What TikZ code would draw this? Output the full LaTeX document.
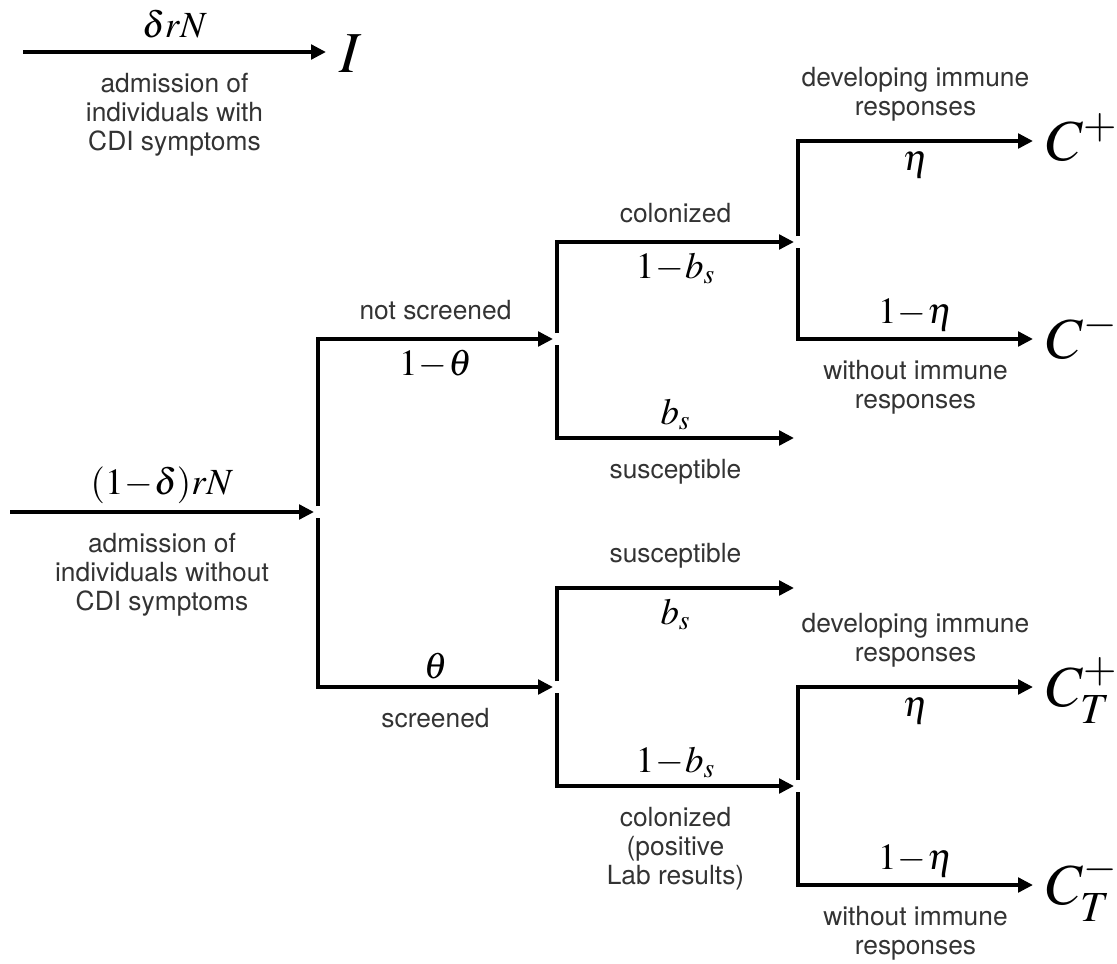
\documentclass[tikz,border=0pt]{standalone}
\usepackage{mathptmx}
\usepackage{fontspec}
\setsansfont{TeX Gyre Heros}
\usetikzlibrary{arrows.meta,calc}

\newcommand{\tminus}{\mskip0.5mu{-}\mskip0.5mu}

\tikzset{
  flow/.style={line width=2.2pt,-{Triangle[length=0.3cm,width=0.29cm]}},
  desc/.style={font=\sffamily\fontsize{15}{16.5}\selectfont,text=black!80,align=center,inner sep=0pt},
  rate/.style={font=\fontsize{21}{25}\selectfont,inner sep=0pt},
  state/.style={font=\fontsize{33}{40}\selectfont,inner sep=0pt,outer sep=7.5pt,anchor=base west},
  descup/.style={desc,above=10pt},
  descdown/.style={desc,below=11pt},
  rateup/.style={rate,above=3.5pt},
  ratedown/.style={rate,below=5pt},
}

\begin{document}
\begin{tikzpicture}[x=0.02cm,y=-0.02cm]
\useasboundingbox (0,0) rectangle (1117,964);

% junctions of the tree
\coordinate (symp) at (23,52);
\coordinate (in0) at (10,512);
\coordinate (j0) at (318,512);
\coordinate (j1) at (557,339);
\coordinate (j2) at (557,687);
\coordinate (j3) at (798,242);
\coordinate (e1) at (798,438);
\coordinate (e2) at (798,588);
\coordinate (j4) at (798,786);

% compartments
\node[state] (I) at (326,72) {$I$};
\node[state] (Cp) at (1033,160) {$C^+$};
\node[state] (Cm) at (1033,358) {$C^-$};
\node[state] (CTp) at (1033,706) {$C_T^+$};
\node[state] (CTm) at (1033,904) {$C_T^-$};

% admission with symptoms
\draw[flow] (symp) -- node[rate,above=7pt] (rI) {$\delta rN$}
  node[descdown] (dI) {admission of\\individuals with\\CDI symptoms} ($(I.base west)+(0,-20)$);

% admission without symptoms
\draw[flow] (in0) -- node[rateup] (r0) {$(1\tminus\delta)rN$}
  node[descdown] (d0) {admission of\\individuals without\\CDI symptoms} ($(j0)+(-4,0)$);

% screening
\draw[flow] ($(j0)+(0,-6)$) |- node[pos=0.75,descup] (dj1) {not screened}
  node[pos=0.75,ratedown] (rj1) {$1\tminus\theta$} ($(j1)+(-4,0)$);
\draw[flow] ($(j0)+(0,6)$) |- node[pos=0.75,rateup] (rj2) {$\theta$}
  node[pos=0.75,descdown] (dj2) {screened} ($(j2)+(-4,0)$);

% not screened
\draw[flow] ($(j1)+(0,-6)$) |- node[pos=0.75,descup] (dj3) {colonized}
  node[pos=0.75,ratedown] (rj3) {$1\tminus b_s$} ($(j3)+(-4,0)$);
\draw[flow] ($(j1)+(0,6)$) |- node[pos=0.75,rateup] (re1) {$b_s$}
  node[pos=0.75,descdown] (de1) {susceptible} ($(e1)+(-4,0)$);

% screened
\draw[flow] ($(j2)+(0,-6)$) |- node[pos=0.75,descup] (de2) {susceptible}
  node[pos=0.75,ratedown] (re2) {$b_s$} ($(e2)+(-4,0)$);
\draw[flow] ($(j2)+(0,6)$) |- node[pos=0.75,rateup] (rj4) {$1\tminus b_s$}
  node[pos=0.75,descdown] (dj4) {colonized\\(positive\\Lab results)} ($(j4)+(-4,0)$);

% immune responses, not screened
\draw[flow] ($(j3)+(0,-6)$) |- node[pos=0.75,descup] (dCp) {developing immune\\responses}
  node[pos=0.75,ratedown] (rCp) {$\eta$} ($(Cp.base west)+(0,-19)$);
\draw[flow] ($(j3)+(0,6)$) |- node[pos=0.75,rateup] (rCm) {$1\tminus\eta$}
  node[pos=0.75,descdown] (dCm) {without immune\\responses} ($(Cm.base west)+(0,-19)$);

% immune responses, screened
\draw[flow] ($(j4)+(0,-6)$) |- node[pos=0.75,descup] (dCTp) {developing immune\\responses}
  node[pos=0.75,ratedown] (rCTp) {$\eta$} ($(CTp.base west)+(0,-19)$);
\draw[flow] ($(j4)+(0,6)$) |- node[pos=0.75,rateup] (rCTm) {$1\tminus\eta$}
  node[pos=0.75,descdown] (dCTm) {without immune\\responses} ($(CTm.base west)+(0,-19)$);
\end{tikzpicture}
\end{document}
